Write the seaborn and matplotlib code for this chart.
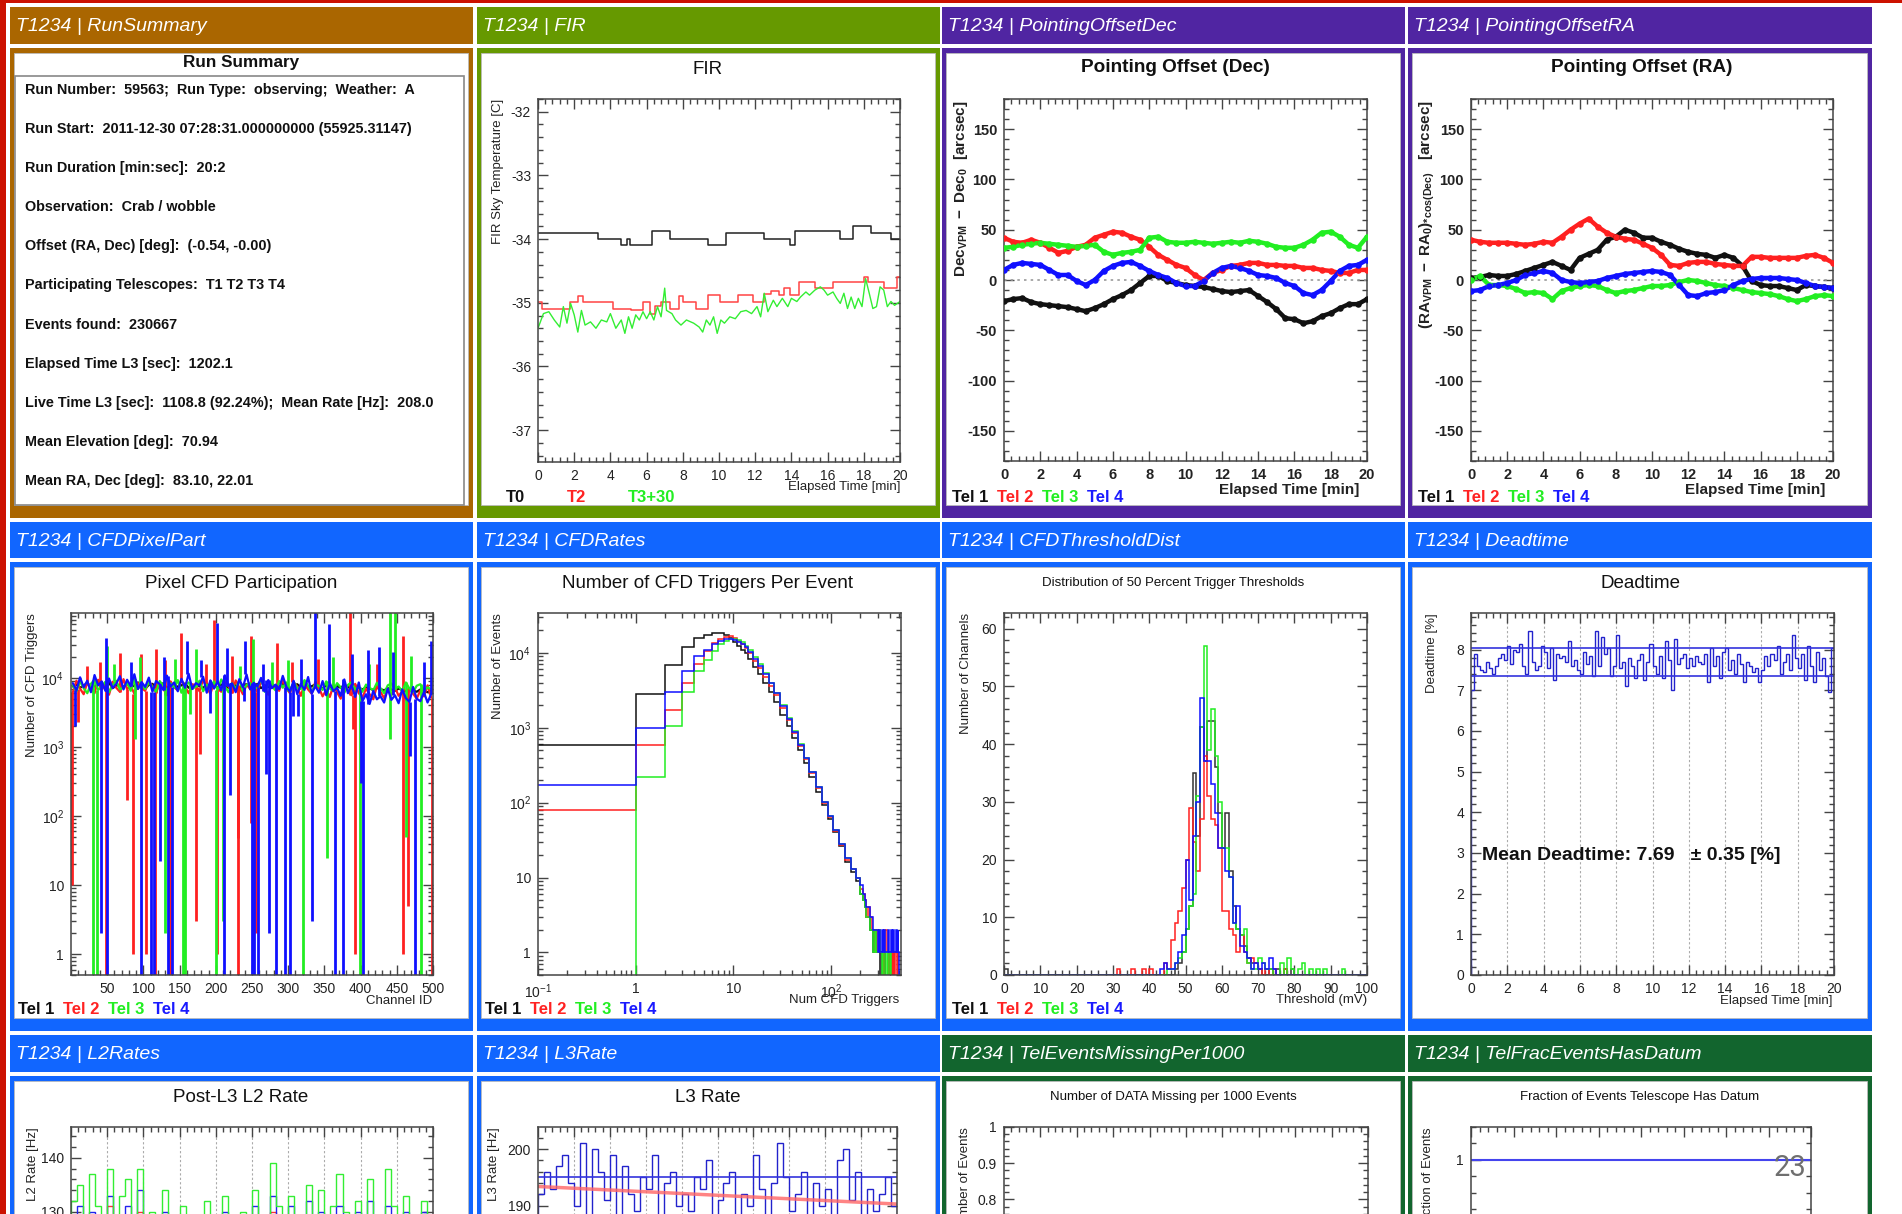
import numpy as np
import matplotlib
matplotlib.use("Agg")
import matplotlib.pyplot as plt
import seaborn as sns
from matplotlib.ticker import MultipleLocator, FuncFormatter, NullFormatter, LogLocator
from matplotlib.patches import Rectangle

sns.set_theme(style="white")
plt.rcParams["font.family"] = ["Liberation Sans", "DejaVu Sans"]
plt.rcParams["mathtext.fontset"] = "custom"
plt.rcParams["mathtext.rm"] = "Liberation Sans"
plt.rcParams["mathtext.it"] = "Liberation Sans:italic"
plt.rcParams["mathtext.bf"] = "Liberation Sans:bold"
plt.rcParams["axes.unicode_minus"] = False

# ---------------------------------------------------------------- data
panel_names = [["RunSummary", "FIR", "PointingOffsetDec", "PointingOffsetRA"],
               ["CFDPixelPart", "CFDRates", "CFDThresholdDist", "Deadtime"],
               ["L2Rates", "L3Rate", "TelEventsMissingPer1000", "TelFracEventsHasDatum"]]

summary_lines = [
    "Run Number:  59563;  Run Type:  observing;  Weather:  A",
    "Run Start:  2011-12-30 07:28:31.000000000 (55925.31147)",
    "Run Duration [min:sec]:  20:2",
    "Observation:  Crab / wobble",
    "Offset (RA, Dec) [deg]:  (-0.54, -0.00)",
    "Participating Telescopes:  T1 T2 T3 T4",
    "Events found:  230667",
    "Elapsed Time L3 [sec]:  1202.1",
    "Live Time L3 [sec]:  1108.8 (92.24%);  Mean Rate [Hz]:  208.0",
    "Mean Elevation [deg]:  70.94",
    "Mean RA, Dec [deg]:  83.10, 22.01",
]

tel_labels = ["Tel 1", "Tel 2", "Tel 3", "Tel 4"]
fir_labels = ["T0", "T2", "T3+30"]

# FIR (deg C vs minutes)
fir_t0_t = [0, 3.3, 4.6, 4.9, 5.1, 6.3, 7.3, 9.4, 10.4, 12.5, 13.9, 14.2, 16.7, 17.4, 18.4, 19.5, 20]
fir_t0 = [-33.9, -34.0, -34.1, -34.0, -34.1, -33.88, -34.0, -34.1, -33.9, -34.0, -34.1, -33.88,
          -34.0, -33.8, -33.9, -34.0, -34.0]
fir_t2_t = [0, 0.2, 1.75, 2.2, 2.5, 4.15, 5.15, 5.8, 6.2, 6.45, 6.8, 7.3, 7.8, 8.0, 8.75, 9.4, 10.05,
            11.05, 11.9, 12.5, 12.9, 13.3, 13.6, 13.9, 14.4, 15.3, 16.3, 18.0, 18.25, 19.1, 19.85, 20]
fir_t2 = [-34.98, -35.09, -34.98, -34.9, -34.98, -35.09, -35.12, -34.98, -35.18, -35.05,
          -34.98, -35.09, -34.9, -34.98, -35.09, -34.88, -34.98, -34.88, -34.98, -34.86,
          -34.81, -34.88, -34.77, -34.88, -34.67, -34.77, -34.67, -34.59, -34.67, -34.77,
          -34.6, -34.6]
fir_t3_t = [0, 0.3, 0.6, 0.9, 1.2, 1.4, 1.6, 1.8, 2.0, 2.2, 2.4, 2.6, 2.9, 3.2, 3.5, 3.8, 4.0, 4.3,
            4.6, 4.8, 5.0, 5.2, 5.4, 5.6, 5.8, 6.0, 6.2, 6.4, 6.6, 6.8, 7.0, 7.1, 7.4, 7.6, 7.9, 8.2,
            8.6, 8.9, 9.1, 9.3, 9.5, 9.7, 9.9, 10.1, 10.3, 10.6, 10.9, 11.2, 11.5, 11.8, 12.1, 12.3,
            12.5, 12.7, 13.0, 13.2, 13.5, 13.8, 14.0, 14.3, 14.5, 14.8, 15.0, 15.3, 15.6, 15.8, 16.0,
            16.3, 16.5, 16.7, 16.9, 17.1, 17.3, 17.5, 17.7, 17.9, 18.1, 18.3, 18.5, 18.7, 18.9, 19.1,
            19.3, 19.5, 19.7, 20]
fir_t3 = [-35.40, -35.17, -35.14, -35.27, -35.38, -35.06, -35.32, -35.01, -35.19, -35.46,
          -35.12, -35.35, -35.30, -35.40, -35.27, -35.30, -35.17, -35.40, -35.27, -35.48,
          -35.22, -35.40, -35.19, -35.27, -35.14, -35.25, -35.14, -35.27, -35.06, -35.22,
          -34.77, -35.12, -35.17, -35.27, -35.35, -35.27, -35.32, -35.38, -35.46, -35.27,
          -35.35, -35.22, -35.48, -35.27, -35.32, -35.22, -35.25, -35.14, -35.12, -35.17,
          -35.06, -35.22, -34.85, -35.14, -34.96, -35.06, -34.93, -35.06, -34.93, -34.98,
          -34.91, -34.83, -34.88, -34.80, -34.75, -34.80, -34.88, -34.83, -34.93, -35.01,
          -34.85, -35.09, -34.91, -35.09, -34.93, -35.06, -34.62, -34.85, -35.09, -35.06,
          -34.75, -34.80, -35.06, -34.98, -35.04, -34.98]

# Pointing offsets (arcsec) on a half-minute grid
half_min = [0, 0.5, 1, 1.5, 2, 2.5, 3, 3.5, 4, 4.5, 5, 5.5, 6, 6.5, 7, 7.5, 8, 8.5, 9, 9.5, 10,
            10.5, 11, 11.5, 12, 12.5, 13, 13.5, 14, 14.5, 15, 15.5, 16, 16.5, 17, 17.5, 18, 18.5,
            19, 19.5, 20]
dec_tel1 = [-21, -19, -18, -22, -24, -25, -26, -27, -29, -31, -28, -24, -19, -15, -10, -3, 4, 4, -1,
            -3, -5, -6, -7, -9, -11, -12, -11, -10, -16, -22, -29, -38, -39, -43, -41, -36, -33,
            -28, -24, -24, -19]
dec_tel2 = [42, 38, 37, 40, 37, 32, 27, 29, 33, 35, 42, 45, 48, 47, 43, 40, 33, 25, 20, 15, 12, 5,
            0, 7, 10, 14, 15, 17, 17, 15, 15, 14, 14, 12, 12, 10, 9, 7, 7, 10, 10]
dec_tel3 = [32, 33, 35, 36, 37, 36, 35, 34, 33, 34, 35, 28, 25, 27, 28, 30, 42, 43, 38, 37, 37, 38,
            37, 36, 37, 38, 37, 39, 38, 36, 33, 32, 32, 35, 40, 47, 48, 43, 35, 32, 43]
dec_tel4 = [10, 15, 17, 16, 15, 10, 5, 5, -1, -5, 0, 9, 14, 17, 18, 14, 9, 5, 2, -3, -6, -6, -1, 7,
            12, 14, 12, 9, 5, 4, 2, -3, -6, -13, -15, -10, -1, 9, 14, 15, 20]
ra_tel1 = [2, 3, 5, 4, 4, 6, 9, 12, 15, 18, 14, 10, 22, 26, 30, 40, 43, 50, 47, 42, 42, 38, 35, 31,
           28, 26, 25, 22, 25, 22, 14, -1, -5, -6, -6, -8, -10, -5, -6, -7, -8]
ra_tel2 = [40, 38, 37, 37, 37, 36, 35, 36, 38, 37, 43, 50, 56, 61, 53, 47, 43, 41, 40, 36, 32, 25,
           15, 14, 17, 18, 18, 16, 15, 14, 14, 23, 23, 22, 22, 22, 22, 24, 25, 22, 17]
ra_tel3 = [0, 4, -5, -5, -6, -9, -13, -12, -13, -19, -11, -8, -6, -5, -6, -10, -13, -11, -10, -8, -6,
           -6, -5, -2, 0, -1, -3, -5, -6, -8, -10, -12, -13, -14, -16, -19, -21, -19, -16, -15, -16]
ra_tel4 = [-11, -10, -6, -5, -3, 0, 5, 7, 9, 7, 0, -2, -3, -2, -1, 2, 4, 6, 7, 8, 9, 8, 5, -5, -15,
           -16, -13, -12, -10, -5, -1, 1, 2, 2, 2, 1, 0, -3, -6, -7, -8]

# CFD pixel participation: band level every 5 channels (thousands of triggers)
pix_tel1_k = [7.5, 8.1, 7.2, 7.8, 8.4, 7.0, 7.6, 8.2, 7.3, 7.9, 8.5, 7.1, 7.7, 8.0, 7.4, 8.3, 7.2, 7.8,
              8.6, 7.5, 7.0, 7.9, 8.2, 7.3, 7.6, 8.4, 7.1, 7.7, 8.1, 7.4, 7.8, 8.3, 7.2, 7.5, 8.0, 7.6,
              7.1, 8.2, 7.4, 7.9, 7.3, 8.0, 7.6, 7.2, 8.4, 7.7, 7.0, 7.9, 8.1, 7.3, 7.5, 8.2, 7.1, 7.8,
              7.4, 8.0, 7.6, 7.2, 8.3, 7.5, 7.0, 7.7, 8.1, 7.3, 7.9, 7.2, 7.6, 8.0, 7.4, 7.1, 7.8, 7.3,
              7.0, 7.6, 7.2, 7.9, 7.4, 6.9, 7.5, 7.1, 6.8, 7.3, 7.0, 6.7, 7.2, 6.9, 6.6, 7.1, 6.8, 6.5,
              7.0, 6.7, 6.4, 6.9, 6.6, 6.3, 6.8, 6.5, 6.2, 6.7]
pix_tel2_k = [6.2, 9.1, 7.0, 5.8, 8.6, 7.4, 6.0, 9.4, 6.8, 7.9, 5.7, 8.8, 7.2, 6.3, 9.6, 6.9, 7.7, 5.9,
              8.4, 7.1, 6.5, 9.0, 7.6, 6.1, 8.2, 7.0, 5.6, 8.9, 7.3, 6.6, 9.3, 7.5, 6.0, 8.1, 7.8, 6.4,
              9.5, 7.2, 5.9, 8.5, 7.0, 6.3, 8.7, 7.6, 6.1, 9.2, 7.3, 5.8, 8.0, 6.9, 7.7, 6.2, 9.0, 7.4,
              5.7, 8.3, 7.1, 6.5, 9.4, 7.0, 6.0, 8.6, 7.5, 5.5, 8.1, 6.8, 5.9, 8.8, 7.2, 5.4, 6.7, 5.3,
              7.9, 6.2, 5.0, 7.4, 6.6, 5.6, 8.2, 6.0, 5.2, 7.0, 5.8, 4.9, 7.6, 6.3, 5.1, 6.9, 5.7, 7.3,
              5.5, 6.4, 4.8, 7.1, 5.9, 5.0, 6.6, 5.4, 7.8, 5.2]
pix_tel3_k = [7.8, 6.4, 8.9, 7.1, 6.0, 8.2, 9.4, 6.7, 7.5, 8.8, 6.2, 7.9, 9.1, 6.8, 7.3, 8.5, 6.5, 9.6,
              7.0, 8.1, 6.9, 8.7, 7.4, 6.3, 9.0, 7.7, 6.6, 8.4, 7.2, 9.3, 6.1, 7.8, 8.6, 6.9, 7.5, 9.1,
              6.4, 8.0, 7.3, 8.9, 6.7, 9.5, 7.6, 6.2, 8.3, 7.0, 9.2, 6.5, 7.9, 8.4, 6.8, 7.4, 9.7, 6.3,
              8.1, 7.5, 6.6, 9.0, 7.2, 8.6, 6.4, 8.8, 7.1, 6.9, 9.3, 7.7, 6.2, 8.2, 7.6, 6.7, 8.9, 7.0,
              6.5, 8.4, 7.3, 6.1, 7.9, 8.7, 6.8, 7.4, 6.3, 8.0, 7.2, 6.6, 8.5, 7.1, 6.0, 7.8, 8.3, 6.9,
              7.5, 6.4, 8.6, 7.0, 6.2, 7.7, 8.1, 6.5, 7.3, 6.8]
pix_tel4_k = [8.4, 6.6, 10.2, 7.3, 9.1, 6.2, 11.0, 7.8, 8.9, 6.5, 9.8, 7.1, 8.2, 10.6, 6.8, 9.4, 7.6,
              11.3, 6.9, 8.7, 7.4, 10.1, 6.3, 9.0, 8.1, 6.7, 10.8, 7.5, 8.6, 6.4, 9.7, 7.2, 11.5, 6.9,
              8.4, 7.8, 10.4, 6.1, 9.2, 7.0, 8.8, 6.6, 10.9, 7.7, 8.3, 6.2, 9.6, 7.3, 11.2, 6.8, 8.5,
              7.5, 10.0, 6.4, 9.3, 7.1, 8.0, 6.9, 10.7, 7.4, 6.3, 9.1, 5.8, 8.2, 6.7, 10.3, 5.9, 7.6,
              6.1, 9.0, 5.6, 8.4, 6.4, 7.2, 5.5, 9.5, 6.0, 7.9, 5.3, 8.6, 4.6, 5.8, 4.2, 6.5, 4.9, 5.4,
              4.4, 7.0, 4.8, 5.6, 4.3, 6.8, 5.1, 4.5, 7.4, 5.0, 4.6, 6.2, 4.4, 5.9]
# individual outlier channels (channel, triggers); 0.3 = empty channel
spk_tel2_ch = [2, 10, 49, 77, 85, 103, 116, 137, 172, 178, 202, 230, 231, 248, 255, 389, 392, 459, 466,
               498, 40, 68, 97, 117, 152, 198, 249, 284, 385, 458, 22, 130, 186, 222, 305, 341, 423]
spk_tel2_v = [10, 2300, 0.3, 170, 1, 1, 0.3, 0.3, 3, 800, 1, 0.3, 48, 80, 2, 1800, 1, 1, 5, 0.3,
              17000, 23000, 22000, 26000, 45000, 70000, 40000, 32000, 90000, 40000, 15000, 18000,
              16000, 21000, 17000, 19000, 16000]
spk_tel3_ch = [30, 36, 88, 130, 155, 158, 164, 200, 210, 320, 354, 399, 440, 463, 483, 50, 172, 252,
               441, 448, 95, 300, 60, 143, 233, 277, 362, 412, 470]
spk_tel3_v = [0.3, 0.3, 1300, 2, 0.3, 0.3, 3000, 0.3, 3, 0.3, 25, 0.3, 1300, 50, 0.3, 29000, 26000,
              36000, 90000, 90000, 20000, 18000, 16000, 19000, 15000, 17000, 20000, 16000, 21000]
spk_tel4_ch = [5, 42, 50, 97, 111, 114, 123, 134, 139, 192, 212, 220, 239, 250, 253, 258, 270, 274,
               283, 296, 302, 307, 314, 333, 364, 376, 401, 403, 468, 475, 48, 160, 201, 216, 240,
               337, 356, 497, 410, 425, 83, 128, 180, 265, 318, 388, 445, 487]
spk_tel4_v = [2000, 2, 0.3, 0.3, 0.3, 0.3, 22, 0.3, 0.3, 3100, 0.3, 200, 4600, 0.3, 0.3, 0.3, 400,
              2, 0.3, 0.3, 0.3, 2800, 2800, 3, 0.3, 0.3, 300, 0.3, 730, 0.3, 38000, 34000, 63000,
              27000, 34000, 90000, 60000, 34000, 25000, 28000, 17000, 20000, 18000, 16000, 19000,
              22000, 24000, 17000]

# CFD triggers per event histogram
rate_edges = [0.01, 1, 2, 3, 4, 5, 6, 7, 8, 9, 10, 11, 12, 13, 14, 16, 18, 20, 23, 26, 30, 35, 40,
              46, 53, 60, 70, 80, 92, 105, 120, 140, 160, 180, 200, 210, 220, 230, 240, 250, 260,
              270, 280, 290, 300, 310, 320, 330, 340, 350, 360, 370, 380, 390, 400, 410, 420, 430,
              440, 450, 460, 470, 480, 490, 500]
rate_tel1 = [580, 2800, 6800, 12000, 16000, 17500, 18500, 18500, 17500, 16000, 14000, 12500, 11000,
             9800, 8300, 6500, 5200, 4000, 3000, 2200, 1500, 1050, 740, 500, 340, 220, 140, 92, 60,
             40, 26, 16, 12, 9,
             6, 5, 4, 3, 3, 2, 2, 1, 2, 1, 1, 1, 0.1, 1, 0.1, 1, 0.1, 0.1, 1, 0.1, 0.1, 0.1, 0.1,
             0.1, 0.1, 0.1, 0.1, 0.1, 0.1, 0.1]
rate_tel2 = [80, 580, 1700, 4000, 7000, 10500, 13500, 15500, 16500, 17000, 16000, 14500, 13000,
             11500, 9800, 7800, 6200, 4800, 3600, 2700, 1850, 1250, 860, 570, 380, 250, 155, 100,
             64, 42, 27, 17, 13, 10,
             7, 6, 5, 3, 4, 3, 2, 2, 1, 2, 1, 2, 1, 1, 0.1, 1, 2, 1, 0.1, 1, 1, 0.1, 1, 0.1, 1, 0.1,
             0.1, 1, 0.1, 0.1]
rate_tel3 = [0.1, 220, 1050, 3000, 5800, 8000, 10500, 13000, 14500, 15200, 15500, 14800, 13800,
             12500, 10800, 8700, 7000, 5400, 4000, 2950, 2000, 1350, 900, 600, 400, 260, 160, 102,
             66, 43, 28, 18, 13, 10,
             6, 5, 4, 3, 3, 2, 2, 1, 2, 1, 1, 2, 1, 0.1, 1, 1, 0.1, 1, 0.1, 0.1, 1, 0.1, 0.1, 0.1,
             0.1, 0.1, 0.1, 0.1, 0.1, 0.1]
rate_tel4 = [170, 1000, 3000, 5800, 9000, 11000, 13000, 14500, 15500, 15500, 15000, 14000, 13000,
             11800, 10200, 8300, 6700, 5200, 3900, 2900, 1950, 1320, 880, 590, 390, 255, 160, 102,
             66, 43, 28, 18, 13, 10,
             8, 6, 5, 4, 4, 3, 3, 2, 2, 2, 1, 2, 1, 2, 1, 2, 1, 1, 2, 1, 1, 2, 1, 2, 1, 1, 2, 1, 2, 1]

# 50% trigger threshold distribution: non-empty 1 mV bins
thr_tel1_bin = [0, 47, 48, 49, 50, 51, 52, 53, 54, 55, 56, 57, 58, 59, 60, 61, 62, 63, 64, 65, 66,
                67, 68, 69, 70, 73, 75, 77, 79]
thr_tel1_n = [1, 1, 2, 4, 8, 12, 35, 24, 43, 37, 44, 44, 36, 28, 22, 28, 18, 12, 8, 7, 5, 3, 2, 2, 1,
              1, 1, 1, 1]
thr_tel2_bin = [31, 35, 38, 40, 44, 45, 46, 47, 48, 49, 50, 51, 52, 53, 54, 55, 56, 57, 58, 59, 60,
                61, 62, 63, 64, 65, 66, 67, 68, 69, 70, 72, 74, 77]
thr_tel2_n = [1, 1, 1, 1, 2, 1, 6, 9, 11, 15, 20, 29, 23, 18, 27, 38, 31, 27, 26, 22, 11, 11, 8, 7,
              4, 7, 4, 2, 3, 2, 1, 1, 1, 1]
thr_tel3_bin = [45, 46, 47, 48, 49, 50, 51, 52, 53, 54, 55, 56, 57, 58, 59, 60, 61, 62, 63, 64, 65,
                66, 67, 68, 69, 70, 71, 72, 73, 76, 78, 79, 81, 82, 84, 86, 88, 93]
thr_tel3_n = [1, 1, 2, 3, 4, 8, 12, 14, 31, 43, 57, 39, 46, 38, 30, 22, 22, 17, 9, 8, 7, 8, 2, 1, 1,
              3, 2, 1, 1, 2, 3, 1, 1, 2, 1, 1, 1, 1]
thr_tel4_bin = [43, 44, 45, 46, 47, 48, 49, 50, 51, 52, 53, 54, 55, 56, 57, 58, 59, 60, 61, 62, 63,
                64, 65, 66, 67, 68, 69, 70, 71, 72, 73, 74]
thr_tel4_n = [1, 2, 1, 1, 2, 4, 7, 20, 13, 24, 30, 48, 37, 37, 33, 28, 22, 22, 18, 17, 9, 12, 5, 4,
              3, 1, 2, 1, 2, 1, 3, 1]

# Deadtime [%] in 10 s bins
dead_vals = [7.0, 7.9, 7.6, 7.5, 7.45, 7.7, 7.55, 7.4, 7.6, 7.8,
             7.9, 7.75, 8.1, 7.65, 8.0, 7.95, 8.15, 7.6, 7.4, 8.45,
             7.7, 7.5, 7.6, 8.1, 7.95, 7.55, 8.05, 7.25, 7.9, 7.8,
             7.85, 7.7, 8.2, 7.6, 7.75, 7.5, 7.4, 7.95, 7.65, 7.85,
             7.35, 8.45, 7.6, 8.3, 7.9, 8.05, 7.35, 7.6, 8.35, 7.55,
             7.7, 7.1, 7.8, 7.6, 7.3, 7.75, 7.9, 7.25, 7.7, 8.15,
             7.6, 7.4, 7.85, 7.3, 8.2, 7.75, 7.0, 8.25, 7.65, 7.8,
             7.9, 7.55, 7.8, 7.6, 7.85, 7.7, 7.65, 7.9, 7.2, 8.05,
             7.6, 7.85, 7.3, 7.95, 8.05, 7.5, 7.75, 7.4, 7.9, 7.65,
             7.2, 7.7, 7.6, 7.45, 7.55, 7.2, 7.5, 7.85, 7.6, 7.9,
             7.75, 8.1, 7.4, 7.7, 7.9, 7.5, 8.35, 7.8, 7.55, 7.9,
             7.25, 8.1, 7.6, 7.2, 7.95, 7.5, 7.8, 7.35, 6.95, 8.05]
dead_mean = 7.69
dead_err = 0.35

# L2 rates [Hz] in 20 s bins
l2_tel3 = [132, 135, 127, 137, 131, 126, 138, 129, 133, 136, 128, 138, 125, 130, 127, 134, 129, 126,
           131, 128, 124, 127, 132, 125, 129, 133, 126, 128, 130, 127, 134, 125, 129, 139, 131, 127,
           133, 128, 126, 135, 129, 134, 127, 131, 137, 130, 126, 132, 128, 136, 129, 125, 138, 131,
           127, 133, 129, 126, 132, 128]
l2_tel4 = [129, 131, 126, 130, 128, 125, 133, 127, 129, 131, 126, 134, 124, 128, 126, 130, 127, 125,
           129, 126, 123, 125, 129, 124, 127, 130, 124, 126, 128, 125, 131, 124, 127, 133, 129, 125,
           131, 126, 124, 132, 127, 130, 125, 129, 131, 128, 124, 130, 126, 132, 127, 123, 131, 129,
           125, 130, 127, 124, 130, 126]
l2_tel2 = [127, 129, 124, 128, 126, 123, 131, 125, 127, 129, 124, 130, 122, 126, 124, 128, 125, 123,
           127, 124, 121, 123, 127, 122, 125, 128, 122, 124, 126, 123, 128, 122, 125, 130, 127, 123,
           129, 124, 122, 129, 125, 128, 123, 127, 129, 126, 122, 128, 124, 129, 125, 121, 129, 127,
           123, 128, 125, 122, 128, 124]
# L3 rate [Hz] in 20 s bins
l3_vals = [192, 196, 193, 197, 199, 194, 190, 201, 188, 200, 196, 191, 199, 186, 197, 192, 189, 195,
           193, 199, 187, 194, 196, 190, 192, 189, 195, 193, 198, 188, 191, 194, 196, 187, 192, 190,
           199, 193, 186, 194, 201, 195, 189, 192, 196, 188, 194, 190, 193, 187, 198, 200, 191, 196,
           187, 193, 189, 192, 195, 190]
l3_mean = 195.0
l3_fit_t = [0, 20]
l3_fit = [193.4, 190.3]
frac_has_datum = [1.0, 1.0]
frac_x = [0, 4]
page_number = "23"

# ---------------------------------------------------------------- layout
W, H = 1902, 1214
fig = plt.figure(figsize=(W / 100, H / 100), dpi=100)
fig.patch.set_facecolor("white")
bg = fig.add_axes([0, 0, 1, 1])
bg.set_xlim(0, W)
bg.set_ylim(H, 0)
bg.axis("off")

RED = "#CC1100"
ORANGE = "#AA6600"
FGREEN = "#669900"
PURPLE = "#5025A2"
BLUE = "#1166FF"
DGREEN = "#12652E"
panel_colors = [[ORANGE, FGREEN, PURPLE, PURPLE], [BLUE] * 4, [BLUE, BLUE, DGREEN, DGREEN]]

C_BLK, C_RED, C_GRN, C_BLU = "#111111", "#FF2222", "#22EE22", "#1A1AFF"
tel_colors = [C_BLK, C_RED, C_GRN, C_BLU]

COLS = [(10, 473), (477, 940), (942, 1405), (1408, 1872)]
HDR = [(7, 44), (522, 558), (1035, 1072)]
BODY = [(48, 518), (562, 1031), (1076, 1600)]

bg.add_patch(Rectangle((0, 0), 6, H, color=RED, lw=0))
bg.add_patch(Rectangle((0, 0), W, 3, color=RED, lw=0))

for r in range(3):
    for c in range(4):
        cx0, cx1 = COLS[c]
        col = panel_colors[r][c]
        hy0, hy1 = HDR[r]
        bg.add_patch(Rectangle((cx0, hy0), cx1 - cx0, hy1 - hy0, color=col, lw=0))
        bg.text(cx0 + 6, (hy0 + hy1) / 2 + 1, "T1234 | " + panel_names[r][c], color="white",
                fontsize=14, style="italic", va="center", ha="left")
        by0, by1 = BODY[r]
        bg.add_patch(Rectangle((cx0, by0), cx1 - cx0, by1 - by0, color=col, lw=0))
        bg.add_patch(Rectangle((cx0 + 4, by0 + 5), cx1 - cx0 - 9, by1 - by0 - 18,
                               facecolor="white", edgecolor="#bbbbbb", lw=0.6))


def px_axes(x0, y0, x1, y1):
    return fig.add_axes([x0 / W, 1 - y1 / H, (x1 - x0) / W, (y1 - y0) / H])


def top_text(x, y, text, **kw):
    # text drawn above every axes (figure-level)
    return fig.text(x / W, 1 - y / H, text, zorder=10, **kw)


def root_style(ax, fs=9.5, bold=False):
    for s in ax.spines.values():
        s.set_color("#444444")
        s.set_linewidth(1.1)
        s.set_visible(True)
    ax.tick_params(which="both", direction="in", top=True, right=True, bottom=True, left=True,
                   labelsize=fs, labelcolor="#222222", color="#444444", width=1, pad=5)
    ax.tick_params(which="major", length=7.5)
    ax.tick_params(which="minor", length=3.8)
    ax.set_facecolor("white")
    ax.grid(False)
    ax.set_xlabel("")
    ax.set_ylabel("")
    if bold:
        for lab in ax.get_xticklabels() + ax.get_yticklabels():
            lab.set_fontweight("bold")


def log_fmt(v, pos):
    if v <= 0:
        return ""
    e = np.log10(v)
    if abs(e - round(e)) > 1e-6:
        return ""
    e = int(round(e))
    if e == 0:
        return "1"
    if e == 1:
        return "10"
    return r"$10^{%d}$" % e


def ylab(x, y, text, fs=9.5, bold=False):
    bg.text(x, y, text, rotation=90, ha="center", va="top", fontsize=fs,
            fontweight="bold" if bold else "normal", color="#222222")


def xlab(x, y, text, fs=9.5, bold=False):
    bg.text(x, y, text, ha="right", va="center", fontsize=fs,
            fontweight="bold" if bold else "normal", color="#222222")


def title(x, y, text, fs=13.5, bold=False):
    bg.text(x, y, text, ha="center", va="center", fontsize=fs,
            fontweight="bold" if bold else "normal", color="#111111")


def tel_legend(x0, y, labels=tel_labels, colors=tel_colors, step=45, fs=12):
    for i, (lab, col) in enumerate(zip(labels, colors)):
        bg.text(x0 + i * step, y, lab, color=col, fontsize=fs, fontweight="bold",
                ha="left", va="center")


# ---------------------------------------------------------------- Run summary
title(241, 63, "Run Summary", fs=12.3, bold=True)
bg.add_patch(Rectangle((15, 76), 449, 429, facecolor="none", edgecolor="#888888", lw=1.2))
for i, line in enumerate(summary_lines):
    bg.text(25, 90 + i * 39.1, line, fontsize=10.4, fontweight="bold", color="#111111",
            ha="left", va="center")

# ---------------------------------------------------------------- FIR
ax = px_axes(538, 99, 900, 462)
sns.lineplot(x=fir_t0_t, y=fir_t0, ax=ax, color="#222222", linewidth=1.1,
             drawstyle="steps-post", estimator=None, sort=False)
sns.lineplot(x=fir_t2_t, y=fir_t2, ax=ax, color="#FF4444", linewidth=1.1,
             drawstyle="steps-post", estimator=None, sort=False)
sns.lineplot(x=fir_t3_t, y=fir_t3, ax=ax, color="#33EE33", linewidth=1.0,
             estimator=None, sort=False)
ax.set_xlim(0, 20)
ax.set_ylim(-37.5, -31.8)
ax.xaxis.set_major_locator(MultipleLocator(2))
ax.xaxis.set_minor_locator(MultipleLocator(0.4))
ax.yaxis.set_major_locator(MultipleLocator(1))
ax.yaxis.set_minor_locator(MultipleLocator(0.2))
root_style(ax, fs=10)
title(708, 69, "FIR", fs=13.5)
ylab(498, 99, "FIR Sky Temperature [C]", fs=9.5)
xlab(900, 487, "Elapsed Time [min]", fs=9.5)
tel_legend(506, 497, fir_labels, [C_BLK, C_RED, C_GRN], step=61, fs=12)


# ---------------------------------------------------------------- Pointing
def pointing(axbox, series, cx0, title_text):
    ax = px_axes(*axbox)
    ax.axhline(0, color="#999999", ls=(0, (1.5, 2.5)), lw=1.2, zorder=1)
    for vals, col in zip(series, [C_BLK, "#FF2020", "#22EE22", "#1010FF"]):
        sns.lineplot(x=half_min, y=vals, ax=ax, color=col, linewidth=3.2, estimator=None,
                     sort=False, zorder=3)
        sns.scatterplot(x=half_min, y=vals, ax=ax, color=col, s=22, linewidth=0, zorder=4)
    ax.set_xlim(0, 20)
    ax.set_ylim(-180, 180)
    ax.xaxis.set_major_locator(MultipleLocator(2))
    ax.xaxis.set_minor_locator(MultipleLocator(0.4))
    ax.yaxis.set_major_locator(MultipleLocator(50))
    ax.yaxis.set_minor_locator(MultipleLocator(10))
    root_style(ax, fs=10.5, bold=True)
    title((axbox[0] + axbox[2]) / 2 - 10, 67, title_text, fs=13.7, bold=True)
    xlab(axbox[2] - 8, 490, "Elapsed Time [min]", fs=11, bold=True)
    tel_legend(cx0 + 10, 497)
    return ax


pointing((1004, 99, 1367, 461), [dec_tel1, dec_tel2, dec_tel3, dec_tel4], 942,
         "Pointing Offset (Dec)")
ylab(961, 100, r"$\mathbf{Dec_{VPM}\ -\ Dec_{0}\ \ [arcsec]}$", fs=11)
pointing((1471, 99, 1833, 461), [ra_tel1, ra_tel2, ra_tel3, ra_tel4], 1408,
         "Pointing Offset (RA)")
ylab(1427, 100, r"$\mathbf{(RA_{VPM}\ -\ RA_{0})_{*cos(Dec)}\ \ \ [arcsec]}$", fs=11)

# ---------------------------------------------------------------- CFD pixel participation
ax = px_axes(71, 613, 433, 975)
pix_ch = np.arange(2.5, 500, 5)
pix_sets = [(pix_tel1_k, [], []), (pix_tel2_k, spk_tel2_ch, spk_tel2_v),
            (pix_tel3_k, spk_tel3_ch, spk_tel3_v), (pix_tel4_k, spk_tel4_ch, spk_tel4_v)]
for (band, sch, sv), col in zip(pix_sets, [C_BLK, "#FF2020", "#22EE22", "#1010FF"]):
    band_abs = np.array(band) * 1000.0
    sns.lineplot(x=pix_ch, y=band_abs, ax=ax, color=col, linewidth=1.6, estimator=None, sort=False)
    if sch:
        idx = np.clip((np.array(sch) // 5).astype(int), 0, 99)
        ax.vlines(sch, band_abs[idx], sv, color=col, lw=2.0)
ax.set_yscale("log")
ax.set_xlim(0, 500)
ax.set_ylim(0.5, 8.7e4)
ax.xaxis.set_major_locator(MultipleLocator(50))
ax.xaxis.set_minor_locator(MultipleLocator(10))
ax.xaxis.set_major_formatter(FuncFormatter(lambda v, p: "" if v <= 0 else "%d" % v))
ax.yaxis.set_major_locator(LogLocator(base=10, numticks=10))
ax.yaxis.set_minor_locator(LogLocator(base=10, subs=np.arange(2, 10), numticks=20))
ax.yaxis.set_major_formatter(FuncFormatter(log_fmt))
ax.yaxis.set_minor_formatter(NullFormatter())
root_style(ax, fs=10)
title(241, 583, "Pixel CFD Participation", fs=13.5)
ylab(32, 613, "Number of CFD Triggers", fs=9.5)
xlab(432, 1001, "Channel ID", fs=9.5)
tel_legend(18, 1010)

# ---------------------------------------------------------------- CFD rates
ax = px_axes(538, 613, 901, 975)
for vals, col in zip([rate_tel1, rate_tel2, rate_tel3, rate_tel4],
                     [C_BLK, "#FF2020", "#22EE22", "#1010FF"]):
    ax.stairs(vals, rate_edges, color=col, lw=1.1, baseline=0.1)
ax.set_xscale("log")
ax.set_yscale("log")
ax.set_xlim(0.1, 520)
ax.set_ylim(0.5, 3.4e4)
for axis in (ax.xaxis, ax.yaxis):
    axis.set_major_locator(LogLocator(base=10, numticks=10))
    axis.set_minor_locator(LogLocator(base=10, subs=np.arange(2, 10), numticks=20))
    axis.set_major_formatter(FuncFormatter(log_fmt))
    axis.set_minor_formatter(NullFormatter())
root_style(ax, fs=10)
title(708, 583, "Number of CFD Triggers Per Event", fs=13.5)
ylab(498, 613, "Number of Events", fs=9.5)
xlab(899, 1000, "Num CFD Triggers", fs=9.5)
tel_legend(485, 1010)

# ---------------------------------------------------------------- threshold distribution
ax = px_axes(1004, 613, 1367, 975)
thr_edges = np.arange(0, 101, 1)
for bins, counts, col in [(thr_tel1_bin, thr_tel1_n, "#333333"), (thr_tel2_bin, thr_tel2_n, "#FF2020"),
                          (thr_tel3_bin, thr_tel3_n, "#22EE22"), (thr_tel4_bin, thr_tel4_n, "#1010FF")]:
    h = np.zeros(100)
    h[np.array(bins)] = counts
    ax.stairs(h, thr_edges, color=col, lw=1.1)
ax.set_xlim(0, 100)
ax.set_ylim(0, 62.7)
ax.xaxis.set_major_locator(MultipleLocator(10))
ax.xaxis.set_minor_locator(MultipleLocator(2))
ax.yaxis.set_major_locator(MultipleLocator(10))
ax.yaxis.set_minor_locator(MultipleLocator(2))
root_style(ax, fs=10)
title(1173, 583, "Distribution of 50 Percent Trigger Thresholds", fs=9.5)
ylab(966, 613, "Number of Channels", fs=9.5)
xlab(1367, 1000, "Threshold (mV)", fs=9.5)
tel_legend(952, 1010)

# ---------------------------------------------------------------- deadtime
ax = px_axes(1471, 613, 1834, 975)
for xv in range(2, 20, 2):
    ax.axvline(xv, color="#aaaaaa", ls=(0, (2, 2)), lw=0.8, zorder=0)
ax.stairs(dead_vals, np.linspace(0, 20, 121), color="#2222CC", lw=1.0)
ax.axhline(dead_mean + dead_err, color="#3333DD", lw=1.2)
ax.axhline(dead_mean - dead_err, color="#3333DD", lw=1.2)
ax.set_xlim(0, 20)
ax.set_ylim(0, 8.9)
ax.xaxis.set_major_locator(MultipleLocator(2))
ax.xaxis.set_minor_locator(MultipleLocator(0.4))
ax.yaxis.set_major_locator(MultipleLocator(1))
ax.yaxis.set_minor_locator(MultipleLocator(0.2))
root_style(ax, fs=10)
title(1640, 583, "Deadtime", fs=13.5)
ylab(1432, 613, "Deadtime [%]", fs=9.5)
xlab(1833, 1001, "Elapsed Time [min]", fs=9.5)
top_text(1482, 855, "Mean Deadtime: %.2f   \u00b1 %.2f [%%]" % (dead_mean, dead_err),
         fontsize=14, fontweight="bold", color="#111111", ha="left", va="center")

# ---------------------------------------------------------------- row 3
t20 = np.linspace(0, 20, 61)
ax = px_axes(71, 1127, 433, 1489)
for xv in range(2, 20, 2):
    ax.axvline(xv, color="#aaaaaa", ls=(0, (2, 2)), lw=0.8, zorder=0)
ax.stairs(l2_tel2, t20, color="#FF3333", lw=1.0)
ax.stairs(l2_tel4, t20, color="#2222EE", lw=1.0)
ax.stairs(l2_tel3, t20, color="#33EE33", lw=1.0)
ax.set_xlim(0, 20)
ax.set_ylim(78.7, 145.7)
ax.xaxis.set_major_locator(MultipleLocator(2))
ax.xaxis.set_minor_locator(MultipleLocator(0.4))
ax.yaxis.set_major_locator(MultipleLocator(10))
ax.yaxis.set_minor_locator(MultipleLocator(2))
root_style(ax, fs=10)
title(241, 1097, "Post-L3 L2 Rate", fs=13.5)
ylab(33, 1127, "L2 Rate [Hz]", fs=9.5)

ax = px_axes(538, 1127, 897, 1489)
for xv in range(2, 20, 2):
    ax.axvline(xv, color="#aaaaaa", ls=(0, (2, 2)), lw=0.8, zorder=0)
ax.stairs(l3_vals, t20, color="#2222CC", lw=1.0)
ax.axhline(l3_mean, color="#3333DD", lw=1.2)
sns.lineplot(x=l3_fit_t, y=l3_fit, ax=ax, color="#FF6666", linewidth=2.5, alpha=0.8,
             estimator=None, sort=False)
ax.set_xlim(0, 20)
ax.set_ylim(140, 203.9)
ax.xaxis.set_major_locator(MultipleLocator(2))
ax.xaxis.set_minor_locator(MultipleLocator(0.4))
ax.yaxis.set_major_locator(MultipleLocator(10))
ax.yaxis.set_minor_locator(MultipleLocator(2))
root_style(ax, fs=10)
title(708, 1097, "L3 Rate", fs=13.5)
ylab(494, 1127, "L3 Rate [Hz]", fs=9.5)

ax = px_axes(1004, 1127, 1368, 1489)
ax.set_xlim(0, 5)
ax.set_ylim(0, 1)
ax.xaxis.set_major_locator(MultipleLocator(0.5))
ax.xaxis.set_minor_locator(MultipleLocator(0.1))
ax.yaxis.set_major_locator(MultipleLocator(0.1))
ax.yaxis.set_minor_locator(MultipleLocator(0.02))
ax.yaxis.set_major_formatter(FuncFormatter(lambda v, p: "1" if abs(v - 1) < 1e-9 else "%.1f" % v))
root_style(ax, fs=10)
title(1173, 1097, "Number of DATA Missing per 1000 Events", fs=9.5)
ylab(965, 1127, "Number of Events", fs=9.5)

ax = px_axes(1471, 1127, 1811, 1489)
sns.lineplot(x=frac_x, y=frac_has_datum, ax=ax, color="#4444EE", linewidth=1.5, estimator=None,
             sort=False)
ax.set_xlim(0, 4)
ax.set_ylim(0, 1.1)
ax.xaxis.set_major_locator(MultipleLocator(0.5))
ax.xaxis.set_minor_locator(MultipleLocator(0.1))
ax.yaxis.set_major_locator(MultipleLocator(0.2))
ax.yaxis.set_minor_locator(MultipleLocator(0.05))
ax.yaxis.set_major_formatter(FuncFormatter(lambda v, p: "1" if abs(v - 1) < 1e-9 else "%.1f" % v))
root_style(ax, fs=10)
title(1640, 1097, "Fraction of Events Telescope Has Datum", fs=9.5)
ylab(1428, 1127, "Fraction of Events", fs=9.5)

# slide number overlay
top_text(1790, 1168, page_number, fontsize=21, color="#6f6f6f", family=["Roboto", "DejaVu Sans"],
         ha="center", va="center")

fig.savefig("out.png", dpi=100)
